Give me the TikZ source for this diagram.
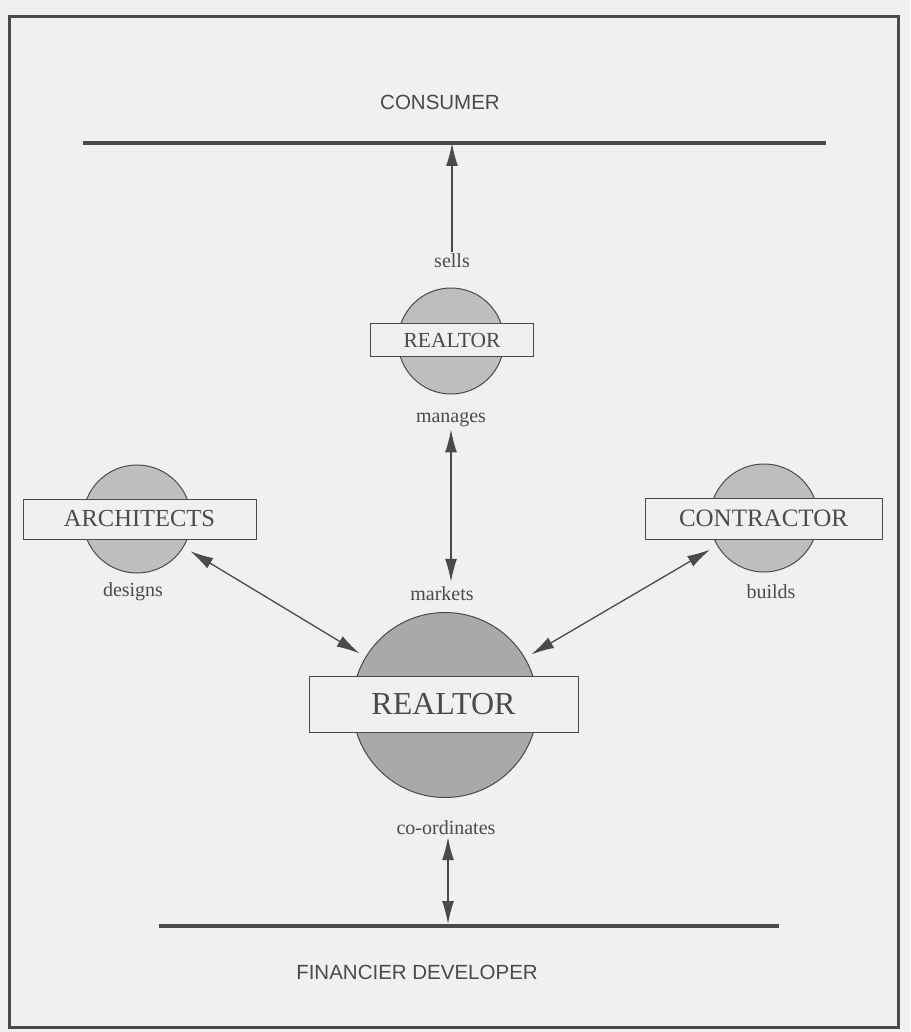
\documentclass[tikz,border=0pt]{standalone}
\usepackage{fontspec}
\setmainfont{Liberation Serif}
\setsansfont{Liberation Sans}
\usetikzlibrary{arrows.meta}

\definecolor{paper}{HTML}{F0F0F0}
\definecolor{ink}{HTML}{4A4A4A}
\definecolor{discgray}{HTML}{BEBEBE}
\definecolor{maingray}{HTML}{A9A9A9}

\begin{document}
\begin{tikzpicture}[x=1pt, y=-1pt,
    disc/.style = {shape=circle, draw=ink, line width=1pt, fill=discgray, inner sep=0pt},
    tag/.style = {shape=rectangle, draw=ink, line width=1pt, fill=paper, text=ink, inner sep=0pt},
    verb/.style = {text=ink, inner sep=2pt, font=\fontsize{20}{22}\selectfont},
    party/.style = {text=ink, inner sep=2pt, font=\sffamily\fontsize{20.5}{23}\selectfont},
    rule/.style = {draw=ink, line width=3.5pt},
    link/.style = {draw=ink, line width=1.3pt, -{Latex[length=23pt,width=12pt]}},
    twoway/.style = {link, {Latex[length=23pt,width=12pt]}-{Latex[length=23pt,width=12pt]}}]

    % page and frame
    \fill[paper] (0,0) rectangle (910,1032);
    \draw[ink, line width=3pt] (9,17) rectangle (898,1027);

    % consumer at the top
    \node[party] (consumer) at (440,102) {CONSUMER};
    \coordinate (conW) at (83,143);
    \coordinate (conE) at (826,143);
    \draw[rule] (conW) -- (conE);

    % realtor selling
    \node[disc, minimum size=106] (topdisc) at (451,341) {};
    \node[tag, minimum width=163, minimum height=33, font=\fontsize{21.5}{24}\selectfont] (toptag) at (452,340) {REALTOR};
    \node[verb] (sells) at (452,261) {sells};
    \node[verb] (manages) at (451,420) {manages};

    % architects and contractor
    \node[disc, minimum size=108] (archdisc) at (137,519) {};
    \node[tag, minimum width=233, minimum height=40, font=\fontsize{24.5}{27}\selectfont] (archtag) at (139.5,519) {ARCHITECTS};
    \node[verb] (designs) at (133,592) {designs};

    \node[disc, minimum size=108] (contrdisc) at (764,518) {};
    \node[tag, minimum width=237, minimum height=41, font=\fontsize{25}{28}\selectfont] (contrtag) at (763.5,518.5) {CONTRACTOR};
    \node[verb] (builds) at (771,592) {builds};

    % the main realtor
    \node[verb] (markets) at (442,594) {markets};
    \node[disc, fill=maingray, minimum size=185] (maindisc) at (445,705) {};
    \node[tag, minimum width=269, minimum height=56, font=\fontsize{32}{36}\selectfont] (maintag) at (443.5,704) {REALTOR};
    \node[verb] (coord) at (446,828) {co-ordinates};

    % financier developer at the bottom
    \coordinate (finW) at (159,926);
    \coordinate (finE) at (779,926);
    \draw[rule] (finW) -- (finE);
    \node[party] (financier) at (417,972) {FINANCIER DEVELOPER};

    % connectors
    \draw[link] (sells.north) -- (sells.north |- conW);
    \draw[twoway, shorten >=3pt] (manages.south) -- (manages.south |- markets.north);
    \draw[twoway, shorten >=2pt] ([xshift=2pt]coord.south) -- ([xshift=2pt]coord.south |- finW);
    \draw[twoway, shorten <=8pt, shorten >=7pt] (archdisc) -- (maindisc);
    \draw[twoway, shorten <=8pt, shorten >=7pt] (contrdisc) -- (maindisc);
\end{tikzpicture}
\end{document}
